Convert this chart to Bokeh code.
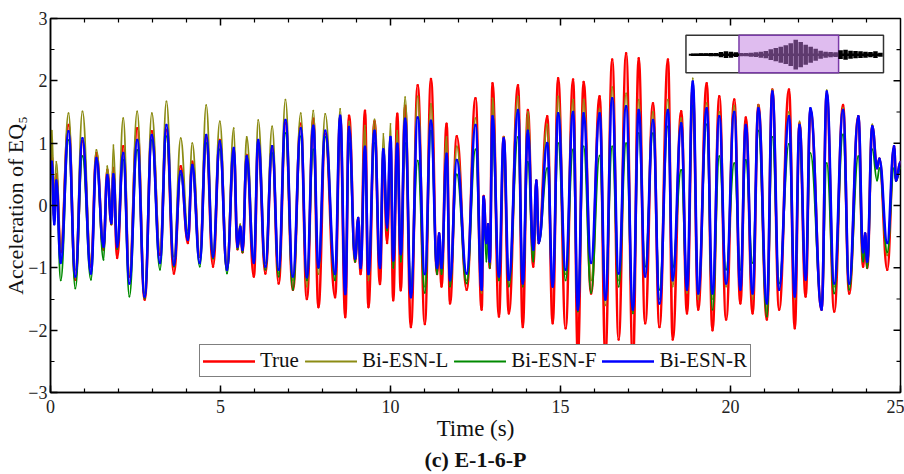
from bokeh.plotting import figure
from bokeh.models import Legend, LegendItem, Title, Range1d, FixedTicker
from bokeh.embed import file_html
from bokeh.resources import INLINE

# ---------------- data: successive extrema of each record ----------------
t_ext = [0.00, 0.04, 0.11, 0.17, 0.30, 0.53, 0.73, 0.94, 1.19, 1.35, 1.56, 1.67, 1.79, 1.85, 1.96,
         2.14, 2.32, 2.55, 2.77, 2.98, 3.22, 3.41, 3.63, 3.83, 4.04,
         4.17, 4.39, 4.58, 4.78, 4.98, 5.19, 5.39, 5.50, 5.58, 5.65, 5.77, 5.98, 6.11, 6.32, 6.52,
         6.71, 6.91, 7.13, 7.36,
         7.54, 7.73, 7.88, 8.08, 8.37, 8.52, 8.67, 8.78, 8.96, 9.05, 9.12, 9.25, 9.35, 9.53, 9.69,
         9.79, 9.90, 10.00, 10.08, 10.20, 10.30, 10.43, 10.60, 10.80, 11.01, 11.19, 11.37, 11.43,
         11.50, 11.65,
         11.75, 11.95, 12.24, 12.50,
         12.68, 12.74, 12.82, 12.87, 12.92, 13.00, 13.19, 13.33, 13.48, 13.75, 13.89, 14.04, 14.20,
         14.29, 14.36, 14.61, 14.77, 14.93, 15.15, 15.37, 15.51, 15.68, 15.90, 16.15, 16.32, 16.52, 16.71,
         16.93, 17.13, 17.30, 17.49, 17.72, 17.91, 18.16, 18.30, 18.55, 18.72, 18.89, 19.05, 19.30,
         19.47, 19.67, 19.87, 20.11, 20.29, 20.45, 20.65, 20.82, 21.07,
         21.23, 21.43, 21.72, 21.89, 22.03, 22.21, 22.35, 22.68, 22.83, 23.05, 23.31, 23.49, 23.76,
         23.90, 23.96, 24.02, 24.17, 24.31, 24.38, 24.61, 24.81, 24.87, 25.00]

true_acc = [0.5, 0.8, -0.2, 0.5, -0.75, 1.29, -1.19, 1.03, -0.98, 0.84, -0.71, 0.57, -0.30, 0.6, -0.84,
            0.95, -1.14, 1.24, -1.51, 1.19, -0.79, 1.21, -1.09, 0.63, -0.6,
            0.7, -0.82, 1.1, -0.98, 1.05, -1.03, 0.89, -0.7, -0.35, -0.75, 0.81, -1.14, 1.0, -1.09, 0.95,
            -1.25, 1.32, -1.35, 1.31,
            -1.50, 1.39, -1.63, 1.15, -1.47, 1.42, -1.79, 1.44, -0.9, -0.2, -1.1, 1.52, -1.63, 1.35, -1.26,
            0.8, -0.6, 1.0, -1.52, 1.47, -1.36, 1.6, -1.95, 1.93, -1.90, 2.03, -1.1, -0.45,
            -1.3, 1.31,
            -1.57, 1.11, -1.35, 1.72,
            -1.67, 0.15, -0.6, -0.3, -1.0, 1.96, -1.78, 1.1, -1.73, 1.93, -1.95, 1.53, -0.98,
            0.4, -0.6, 1.43, -1.89, 2.04, -1.97, 2.02, -2.4, 1.98, -1.41, 1.75, -2.4, 2.34, -2.15,
            2.44, -2.5, 2.36, -1.89, 1.64, -1.95, 2.34, -2.15, 1.51, -1.73, 1.9, -1.67, 1.96,
            -2.0, 1.75, -1.83, 1.70, -1.57, 1.41, -1.73, 1.61, -1.83,
            1.86, -1.67, 1.86, -1.97, 1.32, -1.46, 1.53, -1.67, 1.80, -1.70, 1.61, -1.41, 1.43,
            -0.98, -0.45, -1.0, 1.27, 0.6, 0.75, -1.03, 0.95, 0.4, 0.7]

esn_l = [0.6, 1.2, 0.0, 0.7, -0.7, 1.48, -1.03, 1.51, -0.92, 0.89, -0.60, 0.63, -0.2, 0.97, -0.6,
         1.40, -1.1, 1.51, -1.40, 1.48, -0.71, 1.67, -0.82, 1.08, -0.4,
         1.0, -0.82, 1.61, -0.75, 1.35, -0.92, 1.24, -0.6, -0.3, -0.65, 1.1, -0.82, 1.37, -0.92, 1.27,
         -1.09, 1.70, -1.2, 1.48,
         -1.3, 1.52, -1.1, 1.47, -1.2, 1.55, -1.4, 1.35, -0.9, -0.2, -1.0, 1.28, -1.2, 1.38, -1.0,
         1.15, -0.4, 1.31, -1.0, 1.2, -0.9, 1.74, -1.4, 1.75, -1.3, 1.63, -1.0, -0.45,
         -1.1, 1.1,
         -1.2, 0.95, -1.2, 1.4,
         -1.4, 0.1, -0.6, -0.3, -0.9, 1.72, -1.2, 1.1, -1.2, 1.75, -1.2, 1.5, -0.8,
         0.3, -0.6, 1.3, -1.3, 1.75, -1.1, 1.7, -1.7, 1.7, -1.2, 1.55, -1.6, 1.9, -1.2,
         1.8, -1.7, 1.7, -1.1, 1.5, -1.5, 1.7, -1.3, 1.4, -1.4, 2.04, -1.5, 1.64,
         -1.5, 1.5, -1.3, 1.6, -1.3, 1.3, -1.5, 1.61, -1.7,
         1.86, -1.35, 1.5, -1.5, 1.35, -1.2, 1.56, -1.67, 1.85, -1.3, 1.56, -1.25, 1.43,
         -0.8, -0.5, -0.9, 1.3, 0.6, 0.75, -0.8, 0.95, 0.4, 0.7]

esn_f = [0.4, 0.7, -0.3, 0.4, -1.2, 1.05, -1.33, 0.79, -1.19, 0.73, -0.87, 0.47, -0.3, 0.45, -0.7,
         0.73, -1.46, 0.89, -1.49, 1.05, -1.03, 1.11, -0.98, 0.5, -0.45,
         0.6, -0.98, 1.0, -0.85, 0.9, -1.09, 0.79, -0.7, -0.4, -0.75, 0.68, -0.92, 0.9, -1.03, 0.84,
         -1.14, 1.16, -1.35, 1.11,
         -1.2, 0.9, -1.0, 1.1, -1.2, 1.3, -1.4, 1.0, -0.9, -0.3, -1.0, 0.8, -1.1, 1.0, -1.0,
         0.8, -0.4, 0.9, -1.0, 0.9, -0.9, 1.0, -1.3, 0.72, -1.4, 1.2, -1.1, -0.5,
         -1.1, 0.8,
         -1.3, 0.5, -1.25, 0.9,
         -1.3, 0.1, -0.9, -0.4, -1.0, 1.1, -1.2, 0.8, -1.3, 1.1, -1.3, 0.7, -0.9,
         0.2, -0.6, 0.6, -1.3, 1.0, -1.2, 0.9, -1.7, 0.95, -1.4, 0.8, -1.5, 0.95, -1.3,
         1.0, -1.73, 1.16, -0.98, 1.16, -1.35, 1.27, -1.0, 0.57, -1.35, 1.6, -1.35, 1.3,
         -1.67, 0.79, -1.03, 0.68, -1.03, 0.73, -0.92, 1.2, -1.78,
         1.1, -1.25, 0.99, -1.41, 1.0, -1.14, 0.84, -1.62, 0.68, -1.41, 1.14, -1.35, 0.79,
         -0.9, -0.6, -1.0, 0.9, 0.4, 0.6, -0.75, 0.6, 0.4, 0.6]

esn_r = [0.5, 0.7, -0.3, 0.4, -0.92, 1.19, -1.14, 1.08, -1.09, 0.76, -0.66, 0.49, -0.28, 0.5, -0.66,
         0.84, -1.25, 1.05, -1.46, 1.13, -0.92, 1.29, -0.95, 0.55, -0.55,
         0.65, -0.92, 1.13, -0.82, 1.03, -1.03, 0.92, -0.66, -0.34, -0.71, 0.79, -0.92, 1.05, -0.98, 0.95,
         -1.03, 1.37, -1.14, 1.24,
         -1.15, 1.28, -0.99, 1.20, -1.10, 1.44, -1.42, 1.26, -0.85, -0.2, -1.0, 0.94, -1.1, 1.2, -1.0,
         0.9, -0.35, 1.10, -0.88, 0.99, -0.78, 1.39, -1.47, 1.41, -1.10, 1.36, -1.0, -0.45,
         -1.0, 0.83,
         -1.2, 0.73, -1.09, 1.29,
         -1.35, 0.14, -0.6, -0.3, -0.9, 1.43, -1.14, 1.08, -1.19, 1.53, -1.25, 1.2, -0.71,
         0.4, -0.6, 1.0, -1.3, 1.48, -1.03, 1.5, -1.67, 1.48, -0.92, 1.48, -1.51, 1.72, -1.09,
         1.59, -1.67, 1.53, -1.14, 1.37, -1.57, 1.53, -1.2, 1.32, -1.35, 1.99, -1.41, 1.56,
         -1.41, 1.43, -1.25, 1.5, -1.35, 1.29, -1.41, 1.56, -1.57,
         1.83, -1.35, 1.43, -1.46, 1.29, -1.19, 1.56, -1.67, 1.83, -1.25, 1.53, -1.25, 1.43,
         -0.75, -0.45, -0.9, 1.27, 0.6, 0.75, -0.6, 0.95, 0.4, 0.7]

series_names = ["True", "Bi-ESN-L", "Bi-ESN-F", "Bi-ESN-R"]

# whole-record envelope shown in the inset (relative amplitude, equally spaced in time)
inset_env = [3, 3, 4, 4, 5, 5, 8, 10, 9, 7, 5, 5, 6, 7, 9, 11, 16, 20, 24, 28,
             34, 45, 38, 30, 24, 18, 12, 9, 8, 7, 13, 15, 12, 11, 10, 9, 8, 10, 6]
inset_sel = (0.253, 0.779)   # highlighted window (fraction of the record length)

x_ticks = [0, 5, 10, 15, 20, 25]
x_minor = list(range(0, 26))
y_ticks = [-3, -2, -1, 0, 1, 2, 3]
y_minor = [v / 2 for v in range(-6, 7)]

# ---------------- styles / layout ----------------
FONT = "Liberation Serif"
colors = ["#ff0000", "#8c8c14", "#008a00", "#0000ff"]
widths = [2.6, 1.8, 1.8, 2.6]
X0, X1, Y0, Y1 = 0, 25, -3, 3
PX_X = 852 / 25.0   # pixels per second
PX_Y = 374 / 6.0    # pixels per unit

p = figure(width=904, height=474, x_range=Range1d(X0, X1), y_range=Range1d(Y0, Y1),
           output_backend="svg", toolbar_location=None, title=None,
           min_border_left=48, min_border_right=4, min_border_top=18, min_border_bottom=82)
p.xgrid.visible = False
p.ygrid.visible = False
p.outline_line_color = "black"
p.outline_line_width = 1.5
p.background_fill_color = "white"
p.border_fill_color = "white"

# smooth curves through the extrema (horizontal tangent at every extremum)
n = min(len(t_ext), len(true_acc), len(esn_l), len(esn_f), len(esn_r))
series = [true_acc, esn_l, esn_f, esn_r]
rends = []
for vals, c, w in zip(series, colors, widths):
    x0 = t_ext[:n - 1]
    x1 = t_ext[1:n]
    y0 = vals[:n - 1]
    y1 = vals[1:n]
    cx0 = [a + 0.42 * (b - a) for a, b in zip(x0, x1)]
    cx1 = [b - 0.42 * (b - a) for a, b in zip(x0, x1)]
    r = p.bezier(x0=x0, y0=y0, x1=x1, y1=y1, cx0=cx0, cy0=y0, cx1=cx1, cy1=y1,
                 line_color=c, line_width=w, line_cap="round")
    rends.append(r)

# left / bottom axes, ticks inward
for ax in p.axis:
    ax.major_tick_in = 7
    ax.major_tick_out = 0
    ax.minor_tick_in = 4
    ax.minor_tick_out = 0
    ax.axis_line_width = 1.5
    ax.major_tick_line_width = 1.5
    ax.minor_tick_line_width = 1.2
    ax.axis_line_color = "black"
    ax.major_tick_line_color = "black"
    ax.minor_tick_line_color = "black"
    ax.major_label_text_font = FONT
    ax.major_label_text_font_size = "18px"
    ax.major_label_text_color = "#222222"
    ax.axis_label_text_font = FONT
    ax.axis_label_text_font_style = "normal"
    ax.axis_label_text_color = "#111111"
p.xaxis.ticker = FixedTicker(ticks=x_ticks, minor_ticks=x_minor)
p.yaxis.ticker = FixedTicker(ticks=y_ticks, minor_ticks=y_minor)

p.xaxis.axis_label = "Time (s)"
p.xaxis.axis_label_text_font_size = "23px"
p.xaxis.axis_label_standoff = 0
p.xaxis.major_label_standoff = 7

p.yaxis.axis_label = "Acceleration of EQ\u2085"
p.yaxis.axis_label_text_font_size = "22px"
p.yaxis.axis_label_standoff = -3
p.yaxis.major_label_standoff = 3
p.yaxis.major_label_overrides = {v: "\u2212" + str(-v) for v in y_ticks if v < 0}

# inward ticks on the top and right frame edges
maj_x = [v for v in x_ticks if X0 < v < X1]
min_x = [v for v in x_minor if v not in x_ticks]
maj_y = [v for v in y_ticks if Y0 < v < Y1]
min_y = [v for v in y_minor if v not in y_ticks]
p.segment(x0=maj_x, x1=maj_x, y0=[Y1] * len(maj_x), y1=[Y1 - 7 / PX_Y] * len(maj_x),
          line_color="black", line_width=1.5)
p.segment(x0=min_x, x1=min_x, y0=[Y1] * len(min_x), y1=[Y1 - 4 / PX_Y] * len(min_x),
          line_color="black", line_width=1.2)
p.segment(x0=[X1] * len(maj_y), x1=[X1 - 7 / PX_X] * len(maj_y), y0=maj_y, y1=maj_y,
          line_color="black", line_width=1.5)
p.segment(x0=[X1] * len(min_y), x1=[X1 - 4 / PX_X] * len(min_y), y0=min_y, y1=min_y,
          line_color="black", line_width=1.2)

p.add_layout(Title(text="(c) E-1-6-P", align="center", text_font=FONT, standoff=3,
                   text_font_size="22px", text_font_style="bold", text_color="#111111"), "below")

legend = Legend(items=[LegendItem(label=nm, renderers=[r]) for nm, r in zip(series_names, rends)],
                orientation="horizontal", location=(149, 15),
                border_line_color="black", border_line_width=1.2,
                label_text_font=FONT, label_text_font_size="21px", label_text_color="#111111",
                glyph_width=52, glyph_height=20, label_standoff=5, spacing=6,
                padding=3, margin=0, background_fill_alpha=1.0)
p.add_layout(legend)

# ---------------- inset (whole record with the highlighted window) ----------------
box_x0, box_x1, box_y0, box_y1 = 18.69, 24.50, 2.13, 2.73
wave_x0, wave_x1, wave_yc, wave_amp = 18.84, 24.41, 2.42, 0.24
p.quad(left=[box_x0], right=[box_x1], bottom=[box_y0], top=[box_y1],
       fill_color="white", line_color="#333333", line_width=1.5)
span = wave_x1 - wave_x0
sx0 = wave_x0 + inset_sel[0] * span
sx1 = wave_x0 + inset_sel[1] * span
p.quad(left=[sx0], right=[sx1], bottom=[box_y0], top=[box_y1],
       fill_color="#dfbcef", line_color="#7a3aa8", line_width=1.5)
m = len(inset_env)
env_max = max(inset_env)
xs = [wave_x0 + k * span / (m - 1) for k in range(m)]
amps = [wave_amp * v / env_max for v in inset_env]
wcol = ["#5e3a6e" if sx0 <= x <= sx1 else "black" for x in xs]
p.segment(x0=xs, x1=xs, y0=[wave_yc - a for a in amps], y1=[wave_yc + a for a in amps],
          line_color=wcol, line_width=4.5)
p.line([wave_x0, sx0], [wave_yc, wave_yc], line_color="black", line_width=2.5)
p.line([sx0, sx1], [wave_yc, wave_yc], line_color="#5e3a6e", line_width=2.5)
p.line([sx1, wave_x1], [wave_yc, wave_yc], line_color="black", line_width=2.5)

open("out.html", "w").write(file_html(p, INLINE))
